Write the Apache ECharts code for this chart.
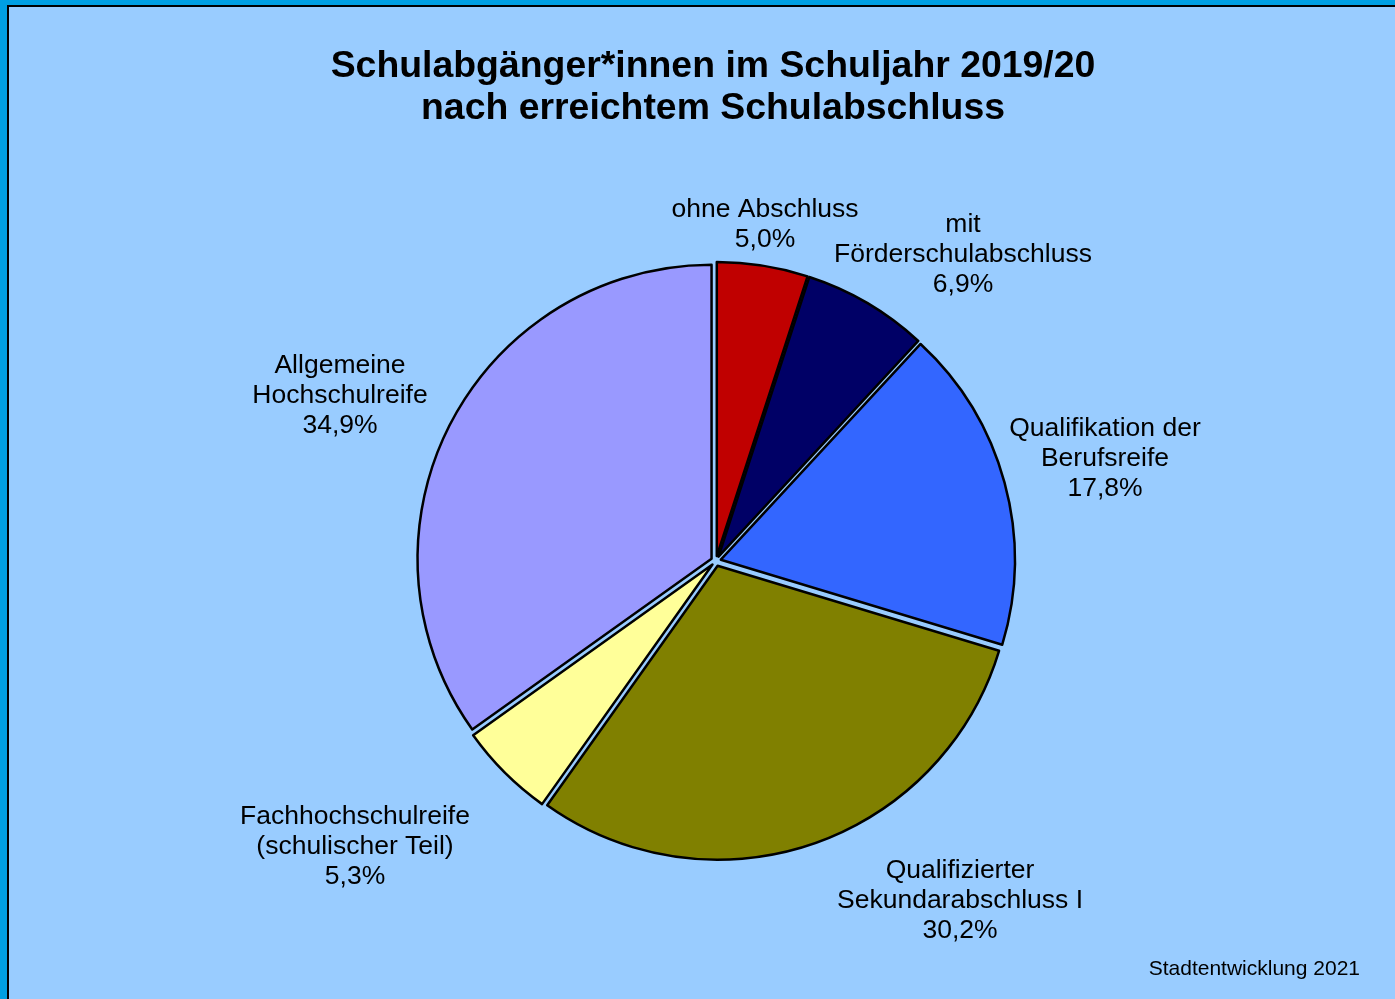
<!DOCTYPE html>
<html>
<head>
<meta charset="utf-8">
<script src="https://cdn.jsdelivr.net/npm/echarts@6/dist/echarts.min.js"></script>
<style>
    html, body { margin: 0; padding: 0; background: #009fe3; }
    #main { width: 1395px; height: 999px; }
</style>
</head>
<body>
<div id="main"></div>
<script>
// Schulabschlüsse 2019/20, Anteile in %
const categories = [
    "ohne Abschluss",
    "mit\nFörderschulabschluss",
    "Qualifikation der\nBerufsreife",
    "Qualifizierter\nSekundarabschluss I",
    "Fachhochschulreife\n(schulischer Teil)",
    "Allgemeine\nHochschulreife",
]
const shares = [5.0, 6.9, 17.8, 30.2, 5.3, 34.9]
const colors = ["#c00000", "#000066", "#3366ff", "#808000", "#ffff99", "#9999ff"]

// Beschriftungen frei platziert wie im Original (Mittelpunkt des Textblocks)
const labelPos = [
    [765, 225],
    [963, 255],
    [1105, 459],
    [960, 901],
    [355, 847],
    [340, 396],
]

const FONT = '"Liberation Sans", Arial, sans-serif'

function fmt(v) {
    return v.toFixed(1).replace(".", ",") + "%"
}

const myChart = echarts.init(document.getElementById("main"))

// Beschriftungen als freie Textelemente
const labelTexts = categories.map((name, i) => ({
    type: "text",
    x: labelPos[i][0],
    y: labelPos[i][1],
    z: 10,
    style: {
        text: name + "\n" + fmt(shares[i]),
        font: "26.5px " + FONT,
        lineHeight: 30,
        fill: "#000",
        align: "center",
        verticalAlign: "middle",
    },
}))

myChart.setOption({
    backgroundColor: "#009fe3",
    animation: false,
    graphic: [
        {
            type: "rect",
            z: -10,
            shape: { x: 8, y: 6, width: 1420, height: 1020 },
            style: { fill: "#99ccff", stroke: "#000", lineWidth: 2 },
            silent: true,
        },
        {
            type: "text",
            x: 713,
            y: 88,
            style: {
                text: "Schulabgänger*innen im Schuljahr 2019/20\nnach erreichtem Schulabschluss",
                font: "bold 37.4px " + FONT,
                lineHeight: 42,
                fill: "#000",
                align: "center",
                verticalAlign: "middle",
            },
        },
        {
            type: "text",
            x: 1360,
            y: 969,
            style: {
                text: "Stadtentwicklung 2021",
                font: "21px " + FONT,
                fill: "#000",
                align: "right",
                verticalAlign: "middle",
            },
        },
    ].concat(labelTexts),
    series: [
        {
            type: "pie",
            center: [716, 561],
            radius: 294,
            startAngle: 90,
            clockwise: true,
            selectedMode: "multiple",
            selectedOffset: 5,
            emphasis: { disabled: true },
            itemStyle: {
                borderColor: "#000",
                borderWidth: 2.5,
            },
            label: { show: false },
            labelLine: { show: false },
            data: categories.map((name, i) => ({
                name: name,
                value: shares[i],
                selected: true,
                itemStyle: { color: colors[i] },
                select: { itemStyle: { color: colors[i], borderColor: "#000", borderWidth: 2.5 } },
            })),
        },
    ],
})

window.addEventListener("resize", function () {
    myChart.resize()
})
</script>
</body>
</html>
